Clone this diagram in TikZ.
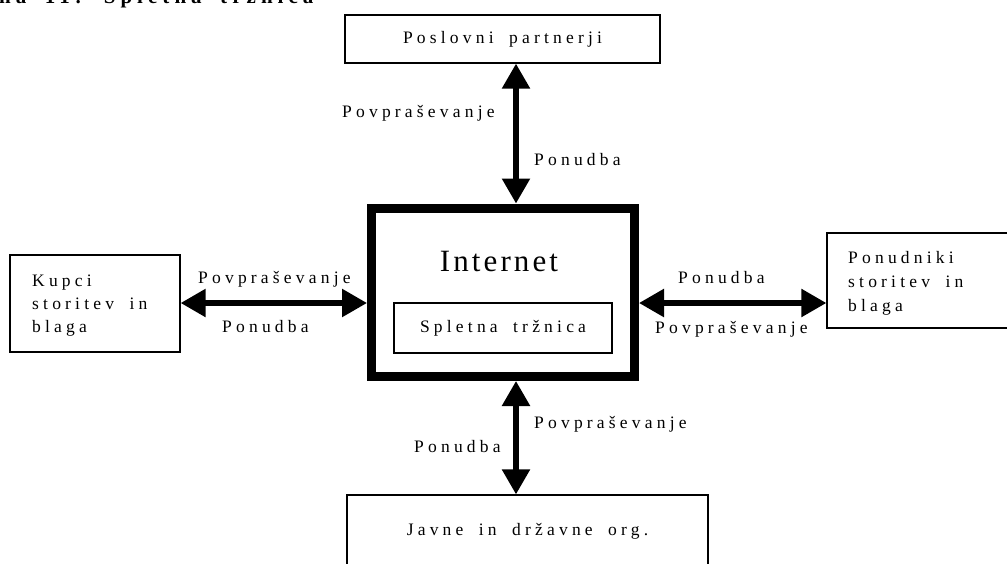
\documentclass[tikz,border=0pt]{standalone}
\usepackage{fontspec}
\setmainfont{Liberation Serif}
\newfontfamily\spacedserif[LetterSpace=24,WordSpace=1.8]{Liberation Serif}
\newfontfamily\wideserif[LetterSpace=10]{Liberation Serif}
\usetikzlibrary{arrows.meta}

\begin{document}
\begin{tikzpicture}[x=1pt,y=-1pt,
  txt/.style={font=\spacedserif\fontsize{17.5}{23}\selectfont, inner sep=0pt},
  lbl/.style={txt, anchor=base west},
  box/.style={draw, line width=1.3pt, txt},
  flow/.style={line width=5.5pt,
    {Triangle[length=25pt,width=27pt]}-{Triangle[length=25pt,width=27pt]}},
]
\clip (0,0) rectangle (1007,563);

% heading
\node[anchor=base west, inner sep=0pt,
      font=\spacedserif\bfseries\fontsize{21}{21}\selectfont] (title) at (-1,3) {na 11: Spletna tržnica};

% central block
\node[draw, line width=9pt, line join=miter, minimum width=263pt,
      minimum height=168.5pt, inner sep=0pt] (inet) at (503,292.25) {};
\node[anchor=base, inner sep=0pt, font=\wideserif\fontsize{31}{31}\selectfont] (inettxt) at (499,271) {Internet};
\node[box, minimum width=218pt, minimum height=50pt] (st) at (503,328) {Spletna tržnica};

% surrounding parties
\node[box, minimum width=315pt, minimum height=48pt] (pp) at (502.5,39) {Poslovni partnerji};
\node[box, minimum width=170pt, minimum height=97pt] (kupci) at (95,303.5) {};
\node[txt, align=left, anchor=west] (kupcitxt) at (32,306) {Kupci\\storitev in\\blaga};
\node[box, minimum width=233pt, minimum height=95pt] (pon) at (943.5,280.5) {};
\node[txt, font=\spacedserif\fontsize{17.5}{24}\selectfont, align=left, anchor=west]
      (pontxt) at (848,283) {Ponudniki\\storitev in\\blaga};
\node[box, minimum width=361pt, minimum height=72pt] (jd) at (527.5,531) {Javne in državne org.};

% connectors
\coordinate (vx) at (516,0);
\coordinate (hy) at (0,303);
\draw[flow] (pp.south -| vx) -- (inet.north -| vx);
\draw[flow] (inet.south -| vx) -- (jd.north -| vx);
\draw[flow] (kupci.east |- hy) -- (inet.west |- hy);
\draw[flow] (inet.east |- hy) -- (pon.west |- hy);

% connector labels
\node[lbl] (l1) at (342,117) {Povpraševanje};
\node[lbl] (l2) at (534,165) {Ponudba};
\node[lbl] (l3) at (198,283) {Povpraševanje};
\node[lbl] (l4) at (222,332) {Ponudba};
\node[lbl] (l5) at (678,283) {Ponudba};
\node[lbl] (l6) at (655,333) {Povpraševanje};
\node[lbl] (l7) at (534,428) {Povpraševanje};
\node[lbl] (l8) at (414,452) {Ponudba};
\end{tikzpicture}
\end{document}
